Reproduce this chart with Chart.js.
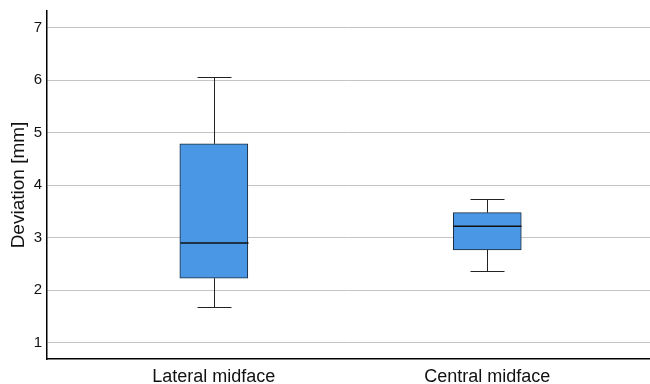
<!DOCTYPE html>
<html>
<head>
<meta charset="utf-8">
<script src="https://cdn.jsdelivr.net/npm/chart.js@4"></script>
<style>
  html, body { margin: 0; padding: 0; background: #fff; }
  #wrap { width: 650px; height: 384px; }
</style>
</head>
<body>
<div id="wrap"><canvas id="myChart"></canvas></div>
<script>
'use strict';

// box plot values
const categories = ['Lateral midface', 'Central midface'];
const positions = [1, 2];
const whiskerLow = [1.69, 2.36];
const quartile1 = [2.23, 2.77];
const medians = [2.9, 3.22];
const quartile3 = [4.79, 3.48];
const whiskerHigh = [6.06, 3.74];
const yTicks = [1, 2, 3, 4, 5, 6, 7];

const boxData = positions.map(function (p, i) {
  return { x: p, y: [quartile1[i], quartile3[i]] };
});

// whiskers and medians drawn on top of the floating bars
const whiskerPlugin = {
  id: 'whiskers',
  afterDatasetsDraw: function (chart) {
    const ctx = chart.ctx;
    const xs = chart.scales.x;
    const ys = chart.scales.y;
    const boxW = 68;
    const capW = 34;
    ctx.save();
    positions.forEach(function (p, i) {
      const cx = Math.round(xs.getPixelForValue(p)) + 0.5;
      const yLo = Math.round(ys.getPixelForValue(whiskerLow[i])) + 0.5;
      const yQ1 = ys.getPixelForValue(quartile1[i]);
      const yQ3 = ys.getPixelForValue(quartile3[i]);
      const yHi = Math.round(ys.getPixelForValue(whiskerHigh[i])) + 0.5;
      const yMed = ys.getPixelForValue(medians[i]);

      ctx.strokeStyle = '#222';
      ctx.lineWidth = 1;
      ctx.beginPath();
      ctx.moveTo(cx, yQ3); ctx.lineTo(cx, yHi);
      ctx.moveTo(cx - capW / 2, yHi); ctx.lineTo(cx + capW / 2, yHi);
      ctx.moveTo(cx, yQ1); ctx.lineTo(cx, yLo);
      ctx.moveTo(cx - capW / 2, yLo); ctx.lineTo(cx + capW / 2, yLo);
      ctx.stroke();

      ctx.strokeStyle = '#111';
      ctx.lineWidth = 1.6;
      ctx.beginPath();
      ctx.moveTo(cx - boxW / 2, yMed); ctx.lineTo(cx + boxW / 2, yMed);
      ctx.stroke();
    });
    ctx.restore();
  }
};

const chart = new Chart(document.getElementById('myChart').getContext('2d'), {
  type: 'bar',
  data: {
    datasets: [{
      data: boxData,
      backgroundColor: '#4a98e5',
      borderColor: '#1c2a3a',
      borderWidth: 1,
      borderSkipped: false,
      barThickness: 68
    }]
  },
  options: {
    responsive: true,
    maintainAspectRatio: false,
    animation: false,
    layout: { padding: { top: 11, right: 0, left: 0, bottom: 0 } },
    plugins: {
      legend: { display: false },
      tooltip: { enabled: false }
    },
    scales: {
      x: {
        type: 'linear',
        offset: false,
        min: 0.39,
        max: 2.595,
        grid: { display: false, drawTicks: false },
        border: { color: '#000', width: 1.5 },
        afterBuildTicks: function (axis) {
          axis.ticks = positions.map(function (v) { return { value: v }; });
        },
        afterFit: function (axis) {
          axis.height = 25;
          axis.paddingLeft = 0;
          axis.paddingRight = 0;
        },
        ticks: {
          padding: 7,
          maxRotation: 0,
          color: '#111',
          font: { family: 'Liberation Sans, Arial, sans-serif', size: 18 },
          callback: function (v) {
            const i = positions.indexOf(v);
            return i >= 0 ? categories[i] : '';
          }
        }
      },
      y: {
        min: 0.69,
        max: 7.32,
        grid: { color: '#c4c4c4', lineWidth: 1, drawTicks: false },
        border: { color: '#000', width: 1.5 },
        afterBuildTicks: function (axis) {
          axis.ticks = yTicks.map(function (v) { return { value: v }; });
        },
        afterFit: function (axis) {
          axis.width = 47;
          axis.paddingTop = 0;
          axis.paddingBottom = 0;
        },
        ticks: {
          padding: 5,
          color: '#111',
          font: { family: 'Liberation Sans, Arial, sans-serif', size: 15 }
        },
        title: {
          display: true,
          text: 'Deviation [mm]',
          color: '#111',
          padding: { top: 7, bottom: 0 },
          font: { family: 'Liberation Sans, Arial, sans-serif', size: 19 }
        }
      }
    }
  },
  plugins: [whiskerPlugin]
});
</script>
</body>
</html>
